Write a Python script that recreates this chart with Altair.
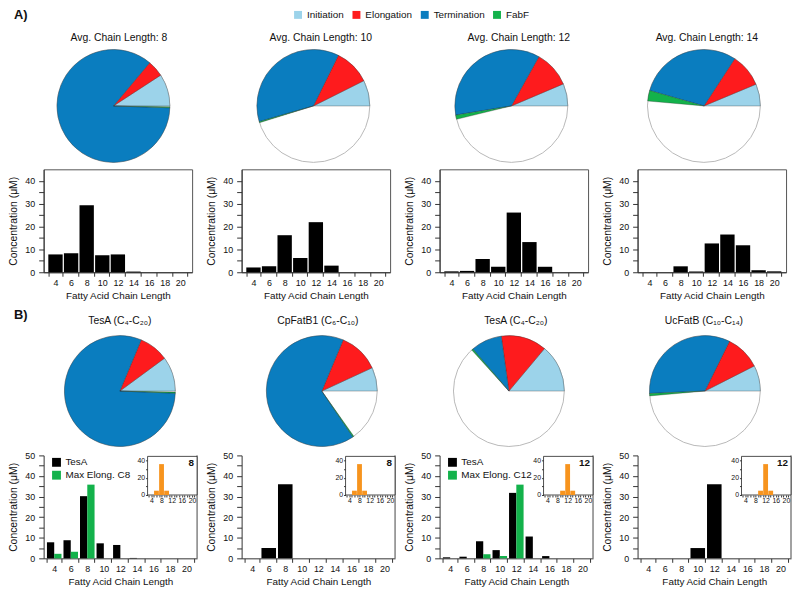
import math
import altair as alt
import pandas as pd

FONT = "Liberation Sans"
INK = "#111111"

# ---------------- data ----------------
stages = ["Initiation", "Elongation", "Termination", "FabF"]
stage_colors = ["#9CD3EA", "#FE1B1D", "#0A7DBF", "#13B24B"]

# pie shares, percent of the full circle (the remainder stays blank)
pie_avg8 = [9.2, 4.7, 85.6, 0.3]
pie_avg10 = [7.4, 10.3, 36.8, 0.3]
pie_avg12 = [6.4, 10.5, 35.7, 1.2]
pie_avg14 = [6.3, 9.5, 29.8, 3.0]
pie_tesa_1 = [10.1, 8.6, 80.7, 0.3]
pie_cpfatb1 = [6.9, 11.8, 65.8, 0.3]
pie_tesa_2 = [13.9, 13.3, 9.1, 0.4]
pie_ucfatb = [7.5, 10.2, 33.0, 0.7]

titles_a = ["Avg. Chain Length: 8", "Avg. Chain Length: 10",
            "Avg. Chain Length: 12", "Avg. Chain Length: 14"]
titles_b = ["TesA (C\u2084-C\u2082\u2080)", "CpFatB1 (C\u2086-C\u2081\u2080)",
            "TesA (C\u2084-C\u2082\u2080)", "UcFatB (C\u2081\u2080-C\u2081\u2084)"]

chain = [4, 6, 8, 10, 12, 14, 16, 18, 20]
conc_avg8 = [7.8, 8.3, 29.3, 7.4, 7.8, 0.3, 0, 0, 0]
conc_avg10 = [2.1, 2.6, 16.2, 6.2, 21.9, 2.9, 0, 0, 0]
conc_avg12 = [0.4, 0.6, 5.8, 2.4, 26.1, 13.2, 2.4, 0, 0]
conc_avg14 = [0, 0, 2.6, 0.3, 12.6, 16.5, 11.8, 0.9, 0.4]

tesa_c8 = [7.8, 8.8, 30.2, 7.3, 6.5, 0.2, 0, 0, 0]
maxelong_c8 = [2.2, 3.2, 35.8, 0, 0, 0, 0, 0, 0]
cpfatb1 = [0, 5.0, 36.0, 0, 0, 0, 0, 0, 0]
tesa_c12 = [0.5, 0.8, 8.3, 4.0, 31.8, 10.6, 1.1, 0, 0]
maxelong_c12 = [0, 0, 2.0, 1.1, 35.8, 0, 0, 0, 0]
ucfatb = [0, 0, 0, 5.0, 36.0, 0, 0, 0, 0]
inset_c8 = [0, 5, 36, 5, 0, 0, 0, 0, 0]
inset_c12 = [0, 0, 0, 5, 36, 5, 0, 0, 0]
inset_labels = ["8", "8", "12", "12"]
series_names = ["TesA", "Max Elong. C8", "Max Elong. C12"]

# ---------------- layout ----------------
COLW = 155
BAR_A_W, BAR_A_H = 150, 104
BAR_B_W, BAR_B_H = 155, 104
PIE_A_H, PIE_B_H = 118, 175
PI_B, PO_B = 0.12, 0.2
STEP_B = BAR_B_W / (len(chain) - PI_B + 2 * PO_B)
BW_B = STEP_B * (1 - PI_B)


def text_layer(txt, x, y, size=10.5, weight="normal", align="center"):
    return alt.Chart(alt.Data(values=[{"t": txt}])).mark_text(
        font=FONT, fontSize=size, fontWeight=weight, align=align,
        baseline="middle", color=INK
    ).encode(text="t:N", x=alt.value(x), y=alt.value(y))


def pie(values, title, cx, cy, r, h, tx, ty, legend=None, extra=()):
    df = pd.DataFrame({"stage": stages, "pct": values, "ord": list(range(4))})
    bg = alt.Chart(alt.Data(values=[{"k": 1}])).mark_arc(
        theta=0, theta2=2 * math.pi, radius=r, fill="white",
        stroke="#b8b8b8", strokeWidth=1
    ).encode(x=alt.value(cx), y=alt.value(cy))
    slices = alt.Chart(df).mark_arc(
        radius=r, stroke="#222", strokeWidth=0.5, strokeOpacity=0.6
    ).encode(
        theta=alt.Theta("pct:Q", stack=True,
                        scale=alt.Scale(domain=[0, 100],
                                        range=[2.5 * math.pi, 0.5 * math.pi])),
        color=alt.Color("stage:N",
                        scale=alt.Scale(domain=stages, range=stage_colors),
                        legend=legend),
        order=alt.Order("ord:Q"),
        x=alt.value(cx), y=alt.value(cy),
    )
    ttl = text_layer(title, tx, ty)
    return alt.layer(bg, slices, ttl, *extra).properties(width=COLW, height=h)


def x_axis():
    return alt.Axis(title="Fatty Acid Chain Length", tickBand="extent",
                    labelAngle=0, tickSize=4, labelPadding=2, titlePadding=3,
                    titleFontSize=10)


def y_axis(top):
    return alt.Axis(title="Concentration (\u03bcM)", values=list(range(0, top + 1, 5)),
                    labelExpr="datum.value % 10 === 0 ? datum.label : ''",
                    labelOverlap=False, tickSize=5, labelPadding=4, titlePadding=6,
                    titleFontSize=10.5)


def bars_a(values):
    df = pd.DataFrame({"chain": chain, "conc": values})
    return alt.Chart(df).mark_bar(color="black").encode(
        x=alt.X("chain:O", scale=alt.Scale(domain=chain, paddingInner=0.08,
                                           paddingOuter=0.3), axis=x_axis()),
        y=alt.Y("conc:Q", scale=alt.Scale(domain=[0, 45], nice=False),
                axis=y_axis(40)),
    ).properties(width=BAR_A_W, height=BAR_A_H,
                 view=alt.ViewBackground(stroke="#555", strokeWidth=1))


def bars_b(tesa, inset, label, maxel=None, maxel_name=None):
    xenc = alt.X("chain:O", scale=alt.Scale(domain=chain, paddingInner=PI_B,
                                            paddingOuter=PO_B), axis=x_axis())
    yenc = alt.Y("conc:Q", scale=alt.Scale(domain=[0, 50], nice=False),
                 axis=y_axis(50))
    if maxel is not None:
        names = ["TesA", maxel_name]
        df = pd.DataFrame(
            [{"chain": c, "conc": v, "series": names[0]} for c, v in zip(chain, tesa)]
            + [{"chain": c, "conc": v, "series": names[1]} for c, v in zip(chain, maxel)]
        )
        col = alt.Color(
            "series:N",
            scale=alt.Scale(domain=names, range=["black", "#13B24B"]),
            legend=alt.Legend(title=None, orient="none", legendX=8, legendY=2,
                              symbolType="square", symbolSize=80,
                              symbolStrokeWidth=0, labelFont=FONT,
                              labelFontSize=10, labelColor=INK, rowPadding=3))
        base = alt.Chart(df)
        left = base.transform_filter(alt.datum.series == names[0]).mark_bar(
            width=BW_B / 2, xOffset=-BW_B / 4).encode(x=xenc, y=yenc, color=col)
        right = base.transform_filter(alt.datum.series == names[1]).mark_bar(
            width=BW_B / 2, xOffset=BW_B / 4).encode(x=xenc, y=yenc, color=col)
        main = alt.layer(left, right)
    else:
        df = pd.DataFrame({"chain": chain, "conc": tesa})
        main = alt.Chart(df).mark_bar(color="black").encode(x=xenc, y=yenc)

    rim = alt.Chart(alt.Data(values=[{"k": 1}])).mark_rule(
        color="#444", strokeWidth=1
    ).encode(x=alt.value(BAR_B_W), y=alt.value(0), y2=alt.value(BAR_B_H))

    ix0, ix1, iy0, iy1 = 105, BAR_B_W, 1, 40
    box = alt.Chart(alt.Data(values=[{"k": 1}])).mark_rect(
        fill="white", stroke="#222", strokeWidth=0.8
    ).encode(x=alt.value(ix0), x2=alt.value(ix1), y=alt.value(iy0), y2=alt.value(iy1))

    idf = pd.DataFrame({"chain": chain, "conc": inset})
    ins = alt.Chart(idf).transform_calculate(
        lo="datum.chain - 0.95", hi="datum.chain + 0.95"
    ).mark_bar(color="#F7941E").encode(
        x=alt.X("lo:Q",
                scale=alt.Scale(domain=[2.5, 22], range=[ix0, ix1], nice=False, zero=False),
                axis=alt.Axis(orient="bottom", offset=iy1 - BAR_B_H, title=None,
                              values=list(range(3, 22)),
                              labelExpr="datum.value % 4 === 0 ? datum.label : ''",
                              labelOverlap=False, labelFlush=False, labelFontSize=7,
                              tickSize=2, labelPadding=0, domain=False)),
        x2="hi:Q",
        y=alt.Y("conc:Q",
                scale=alt.Scale(domain=[0, 45], range=[iy1, iy0], nice=False),
                axis=alt.Axis(orient="left", offset=-ix0, title=None,
                              values=[0, 10, 20, 30, 40],
                              labelExpr="datum.value % 20 === 0 ? datum.label : ''",
                              labelOverlap=False, labelFontSize=7, tickSize=2,
                              labelPadding=1, domain=False)),
        y2=alt.datum(0),
    )
    lab = text_layer(label, ix1 - 3, 8, size=10, weight="bold", align="right")
    return alt.layer(main, rim, box, ins, lab).resolve_scale(
        x="independent", y="independent"
    ).properties(width=BAR_B_W, height=BAR_B_H)


legend_a = alt.Legend(title=None, orient="none", legendX=252, legendY=-38,
                      direction="horizontal", symbolType="square", symbolSize=64,
                      symbolStrokeWidth=0, labelFont=FONT, labelFontSize=10,
                      labelColor=INK, columnPadding=7, labelOffset=4, padding=0,
                      values=stages)

pie_a = [pie_avg8, pie_avg10, pie_avg12, pie_avg14]
pie_b = [pie_tesa_1, pie_cpfatb1, pie_tesa_2, pie_ucfatb]
cx_a, cx_b = [70.5, 72.5, 72.5, 67], [77, 81, 70, 68]
tx_a, tx_b = [76, 80, 80, 70], [77, 77, 77, 67]

row_pa = []
for i in range(4):
    extra = [text_layer("A)", -30, -32.5, size=13, weight="bold", align="left")] if i == 0 else []
    row_pa.append(pie(pie_a[i], titles_a[i], cx_a[i], 59, 57, PIE_A_H, tx_a[i], -10,
                      legend=legend_a if i == 0 else None, extra=extra))

row_ba = [bars_a(v) for v in [conc_avg8, conc_avg10, conc_avg12, conc_avg14]]

row_pb = []
for i in range(4):
    extra = [text_layer("B)", -30, 38, size=13, weight="bold", align="left")] if i == 0 else []
    row_pb.append(pie(pie_b[i], titles_b[i], cx_b[i], 115, 56, PIE_B_H, tx_b[i], 44,
                      legend=None, extra=extra))

row_bb = [
    bars_b(tesa_c8, inset_c8, inset_labels[0], maxelong_c8, series_names[1]),
    bars_b(cpfatb1, inset_c8, inset_labels[1]),
    bars_b(tesa_c12, inset_c12, inset_labels[2], maxelong_c12, series_names[2]),
    bars_b(ucfatb, inset_c12, inset_labels[3]),
]

chart = alt.concat(
    *(row_pa + row_ba + row_pb + row_bb), columns=4,
    spacing={"row": 5, "column": 45}, bounds="flush"
).resolve_scale(
    color="independent", theta="independent", x="independent", y="independent"
).properties(
    padding={"top": -2, "left": 0, "right": 0, "bottom": 0}
).configure(font=FONT).configure_view(
    stroke=None
).configure_axis(
    labelFont=FONT, titleFont=FONT, labelFontSize=9, titleFontSize=10,
    titleFontWeight="normal", labelColor=INK, titleColor=INK,
    domainColor="#333", tickColor="#333", grid=False
)

chart.save("out.html", embed_options={"renderer": "svg", "actions": False})
